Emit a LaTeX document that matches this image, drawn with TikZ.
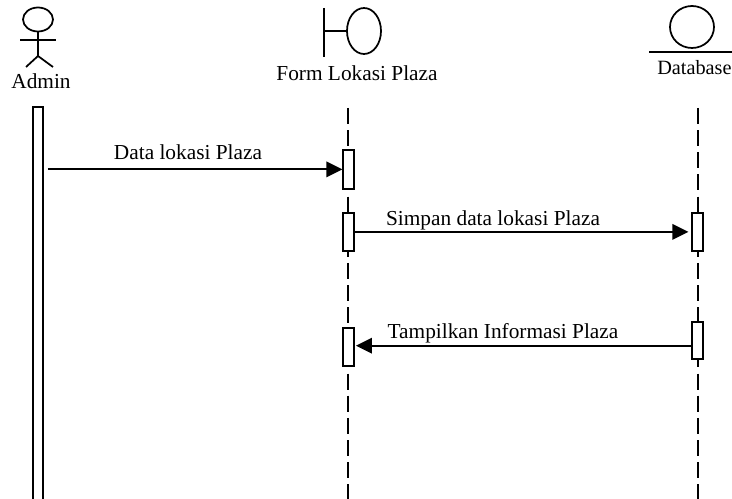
\documentclass[tikz,border=0pt]{standalone}
\usepackage{fontspec}
\setmainfont{Liberation Serif}
\usetikzlibrary{arrows.meta}
\tikzset{
  shapeline/.style={draw=black,line width=1.3pt},
  bar/.style={draw=black,fill=white,line width=1.3pt,rectangle,inner sep=0pt,minimum width=8pt,anchor=north},
  life/.style={draw=black,line width=1.3pt,dash pattern=on 12pt off 4.6pt},
  msg/.style={draw=black,line width=1.7pt,-{Triangle[length=12pt,width=11.5pt]}},
  lbl/.style={inner sep=0pt,font=\fontsize{16}{18}\selectfont,text=black,anchor=base}
}
\begin{document}
\begin{tikzpicture}[x=0.75pt,y=-0.75pt]
\useasboundingbox (0,0) rectangle (732,499);
% Admin actor
\draw[shapeline] (38,19.5) ellipse [x radius=15,y radius=12];
\draw[shapeline] (38,31.5) -- (38,56);
\draw[shapeline] (20,40) -- (56,40);
\draw[shapeline] (26,67) -- (38,56) -- (53,67);
\node[lbl] (adminl) at (41,88.5) {Admin};
% Boundary
\draw[shapeline] (324,8) -- (324,57);
\draw[shapeline] (324,31) -- (347,31);
\draw[shapeline] (364,31) ellipse [x radius=17,y radius=23];
\node[lbl] (forml) at (357,80.5) {Form Lokasi Plaza};
% Entity
\draw[shapeline] (692,27) ellipse [x radius=22,y radius=21];
\draw[shapeline] (649,52) -- (732,52);
\node[lbl,anchor=base west,font=\fontsize{15.2}{18}\selectfont] (dbl) at (657,74.5) {Database};
% Lifelines
\coordinate (f0) at (348,108);
\coordinate (f1) at (348,499);
\coordinate (d0) at (698,108);
\coordinate (d1) at (698,499);
\draw[life] (f0) -- (f1);
\draw[life] (d0) -- (d1);
% Activations
\node[bar,minimum height=0.75pt*393,minimum width=0.75pt*10] (admin) at (38,106) {};
\node[bar,minimum height=0.75pt*39,minimum width=0.75pt*10.5] (a1) at (348.5,149) {};
\node[bar,minimum height=0.75pt*38,minimum width=0.75pt*10.5] (a2) at (348.5,212) {};
\node[bar,minimum height=0.75pt*38,minimum width=0.75pt*10.5] (a3) at (348.5,327) {};
\node[bar,minimum height=0.75pt*38,minimum width=0.75pt*10.5] (d1b) at (697.5,212) {};
\node[bar,minimum height=0.75pt*37,minimum width=0.75pt*10.5] (d2b) at (697.5,321) {};
% Messages
\draw[msg,shorten <=3pt] (admin.east |- a1.west) -- (a1.west);
\draw[msg,shorten >=2.2pt] (a2.east) -- (d1b.west);
\draw[msg,shorten >=1pt] ([yshift=0.9pt]d2b.west |- a3.east) -- ([yshift=0.9pt]a3.east);
\node[lbl] (m1) at (188,160) {Data lokasi Plaza};
\node[lbl] (m2) at (493,225.5) {Simpan data lokasi Plaza};
\node[lbl] (m3) at (503,338) {Tampilkan Informasi Plaza};
\end{tikzpicture}
\end{document}
